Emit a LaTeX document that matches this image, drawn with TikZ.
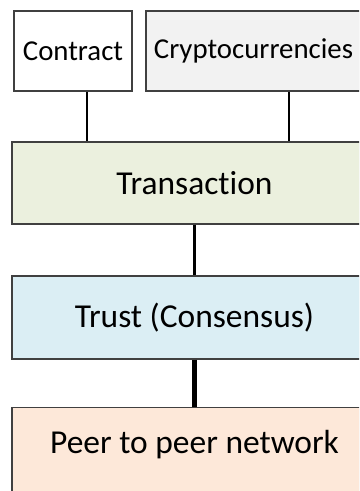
\documentclass[tikz,border=0pt]{standalone}
\usepackage{fontspec}
\setmainfont{Carlito}[Ligatures=NoCommon]
\usepackage{xcolor}
\usepackage{tikz}
\usetikzlibrary{positioning,calc,shadows}

\definecolor{cryptogray}{HTML}{F2F2F2}
\definecolor{txgreen}{HTML}{EBF0DE}
\definecolor{trustblue}{HTML}{DBEEF4}
\definecolor{peerorange}{HTML}{FDE8D9}

\tikzset{
    layer/.style={rectangle, draw=black!75, line width=0.8pt,
        minimum width=9.125cm, minimum height=2.05cm,
        font=\fontsize{23.8}{28}\selectfont,
        drop shadow={shadow xshift=0.5pt, shadow yshift=-0.9pt, opacity=0.35}},
    app/.style={layer, minimum height=2cm, font=\fontsize{20.5}{24}\selectfont},
    link/.style={draw=black, line cap=butt}
}

\begin{document}
\begin{tikzpicture}
    \useasboundingbox (0,0) rectangle (8.975,-12.275);
    \clip (0,0) rectangle (8.975,-12.275);

    % Applications
    \node[app, fill=white, minimum width=2.95cm] (contract) at (1.825,-1.275) {Contract};
    \node[app, fill=cryptogray, minimum width=5.375cm] (crypto) at (6.3375,-1.275) {Cryptocurrencies};

    % Layers
    \node[layer, fill=txgreen] (transaction) at (4.8625,-4.575) {Transaction};
    \node[layer, fill=trustblue, minimum height=2.075cm] (trust) at (4.8625,-7.9375) {Trust (Consensus)};
    \node[layer, fill=peerorange, anchor=north, minimum height=3cm] (peer) at (4.8625,-10.175) {};
    \node[font=\fontsize{23.8}{28}\selectfont] (peerlabel) at ([yshift=-0.95cm]peer.north) {Peer to peer network};

    % Links
    \draw[link, line width=1.8pt] ([xshift=0.35cm]contract.south) -- ([xshift=0.35cm]contract.south |- transaction.north);
    \draw[link, line width=1.8pt] ([xshift=0.8875cm]crypto.south) -- ([xshift=0.8875cm]crypto.south |- transaction.north);
    \draw[link, line width=2.6pt] (transaction.south) -- (trust.north);
    \draw[link, line width=3.4pt] (trust.south) -- (peer.north);
\end{tikzpicture}
\end{document}
